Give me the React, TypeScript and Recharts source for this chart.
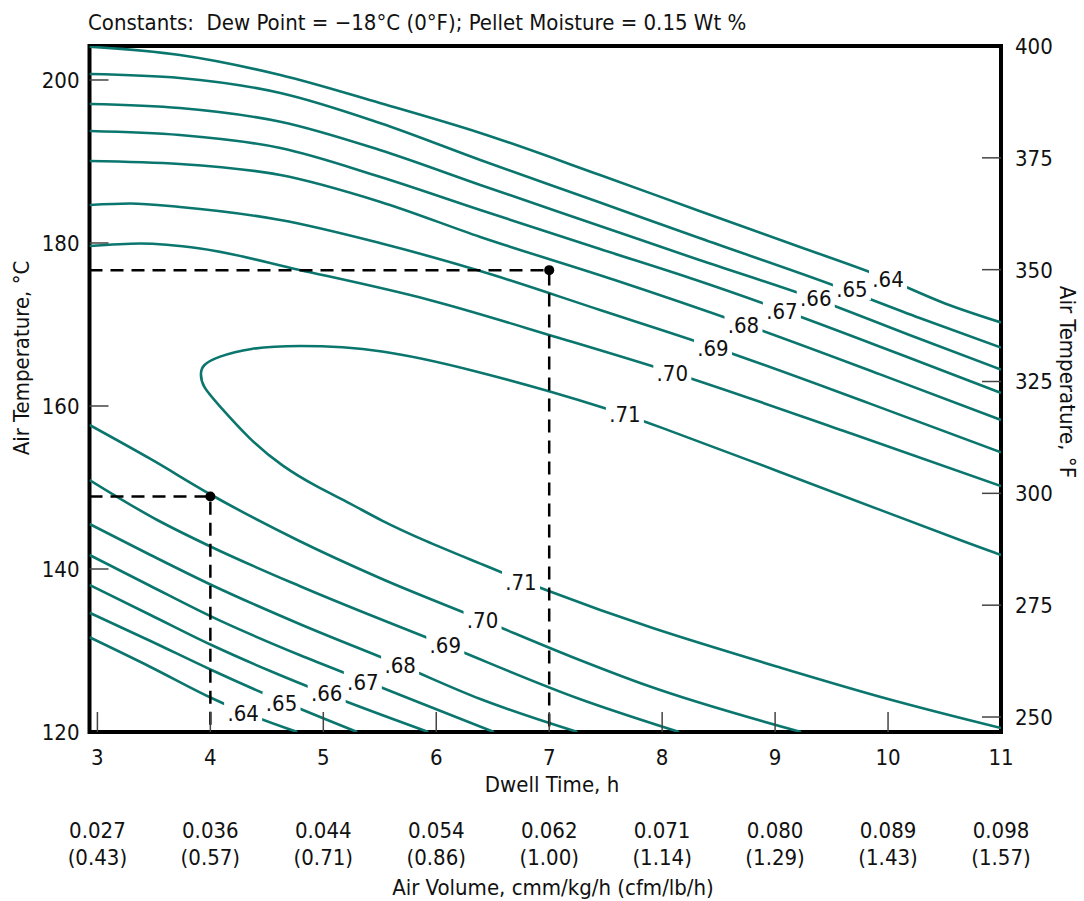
import React from 'react';
import { ComposedChart, Line, Scatter, XAxis, YAxis, ReferenceArea } from 'recharts';

// dwell time (h) vs air temperature (°C), contour values
const dwellTicks = [3, 4, 5, 6, 7, 8, 9, 10, 11];
const airVolumeSI = ['0.027', '0.036', '0.044', '0.054', '0.062', '0.071', '0.080', '0.089', '0.098'];
const airVolumeUS = ['(0.43)', '(0.57)', '(0.71)', '(0.86)', '(1.00)', '(1.14)', '(1.29)', '(1.43)', '(1.57)'];
const tempCTicks = [120, 140, 160, 180, 200];
const tempFTicks = [250, 275, 300, 325, 350, 375, 400];

const upper64 = [[2.93, 204.09], [3.73, 203.07], [4.62, 200.61], [5.5, 197.18], [6.39, 193.5], [7.45, 188.34], [8.33, 183.93], [9.22, 179.51], [9.93, 175.95], [10.51, 172.55], [11, 170.25]];
const upper65 = [[2.93, 200.74], [3.73, 200.25], [4.62, 198.4], [5.5, 194.72], [6.39, 190.18], [7.45, 184.97], [8.33, 180.61], [9.51, 174.85], [10.28, 170.8], [11, 167.17]];
const upper66 = [[2.93, 197.06], [3.73, 196.56], [4.62, 194.88], [5.5, 191.41], [6.39, 187.12], [7.45, 182.09], [8.33, 177.91], [9.36, 173.13], [10.19, 168.71], [11, 164.47]];
const upper67 = [[2.93, 193.74], [3.73, 193.25], [4.62, 191.66], [5.5, 188.13], [6.39, 184.05], [7.45, 179.26], [8.3, 175.46], [9.06, 171.78], [10.1, 166.38], [11, 161.6]];
const upper68 = [[2.93, 190.06], [3.73, 189.69], [4.62, 188.34], [5.5, 185.07], [6.39, 180.74], [7.58, 175.46], [8.72, 170.06], [9.93, 163.88], [11, 158.28]];
const upper69 = [[2.93, 184.66], [3.29, 184.85], [3.73, 184.42], [4.62, 182.82], [5.5, 180.0], [6.39, 176.56], [7.45, 171.78], [8.45, 167.24], [9.84, 160.29], [11, 154.31]];
const upper70 = [[2.93, 179.63], [3.38, 179.94], [3.91, 179.33], [4.79, 176.69], [5.94, 173.01], [7.09, 168.34], [8.09, 164.11], [9.68, 156.59], [11, 150.18]];
// .71 opens to the right: upper branch, nose, lower branch
const loop71 = [[11, 141.72], [10.72, 143.1], [9.98, 146.99], [9.08, 151.72], [7.85, 158.12], [7.55, 159.51], [7.0, 161.84], [6.39, 164.17], [5.5, 167.12], [4.73, 167.48], [4.35, 167.12], [4.06, 166.05], [3.93, 165.03], [3.91, 164.01], [3.93, 162.37], [4.06, 160.33], [4.35, 155.83], [4.64, 152.55], [4.94, 150.1], [5.24, 148.06], [5.5, 146.01], [5.88, 143.56], [6.39, 140.67], [6.9, 137.72], [7.88, 132.76], [9.08, 127.77], [9.98, 124.02], [11, 120.49]];
const lower70 = [[2.93, 157.67], [3.47, 153.5], [4.01, 149.08], [4.77, 143.56], [5.5, 138.9], [6.41, 133.74], [7.18, 129.33], [7.88, 125.64], [9.23, 120]];
const lower69 = [[2.93, 150.92], [3.53, 146.01], [4.01, 142.7], [4.79, 137.91], [6.08, 130.67], [7.27, 124.05], [8.15, 120]];
const lower68 = [[2.93, 145.52], [3.47, 141.72], [4.01, 138.04], [4.79, 133.25], [5.68, 128.22], [6.39, 124.05], [7.25, 120]];
const lower67 = [[2.93, 141.72], [3.47, 137.91], [4.01, 134.15], [4.79, 129.45], [5.35, 126.38], [5.86, 123.56], [6.51, 120]];
const lower66 = [[2.93, 138.04], [3.47, 134.36], [4.01, 130.67], [4.53, 127.48], [5.03, 124.66], [5.93, 120]];
const lower65 = [[2.93, 134.64], [3.47, 131.17], [4.01, 127.61], [4.63, 123.8], [5.3, 120]];
const lower64 = [[2.93, 131.62], [3.47, 127.98], [4.01, 124.17], [4.29, 122.45], [4.77, 120]];

const contourLabels = [
  { t: 10.0, c: 175.58, text: '.64' },
  { t: 9.68, c: 174.36, text: '.65' },
  { t: 9.36, c: 173.18, text: '.66' },
  { t: 9.06, c: 171.6, text: '.67' },
  { t: 8.72, c: 169.94, text: '.68' },
  { t: 8.45, c: 167.12, text: '.69' },
  { t: 8.09, c: 164.05, text: '.70' },
  { t: 7.67, c: 159.02, text: '.71' },
  { t: 6.75, c: 138.4, text: '.71' },
  { t: 6.41, c: 133.74, text: '.70' },
  { t: 6.08, c: 130.67, text: '.69' },
  { t: 5.68, c: 128.22, text: '.68' },
  { t: 5.35, c: 126.13, text: '.67' },
  { t: 5.03, c: 124.79, text: '.66' },
  { t: 4.63, c: 123.56, text: '.65' },
  { t: 4.29, c: 122.33, text: '.64' },
];

// worked examples: 7 h at 177 °C (350 °F), 4 h at 149 °C (300 °F)
const guideHigh = [[2.93, 176.67], [7, 176.67], [7, 120]];
const guideLow = [[2.93, 148.89], [4, 148.89], [4, 120]];
const guideDots = [{ t: 7, c: 176.67 }, { t: 4, c: 148.89 }];

const contours = [upper64, upper65, upper66, upper67, upper68, upper69, upper70, loop71, lower70, lower69, lower68, lower67, lower66, lower65, lower64];

const toPts = (arr: number[][]) => arr.map(([t, c]) => ({ t, c }));

const FONT = "'Liberation Sans Narrow', 'Arial Narrow', 'DejaVu Sans Condensed', sans-serif";
const TEAL = '#0a766d';
const X_MIN = 2.93;
const X_MAX = 11;
const C_MIN = 120;
const C_MAX = 204.17;

const LeftTick = (props: any) => {
  const { x, y, payload } = props;
  return (
    <g>
      {payload.value !== 120 && <line x1={x} x2={x + 19} y1={y} y2={y} stroke="#444" strokeWidth={1.5} />}
      <text x={x - 10} y={y} dy="0.36em" textAnchor="end" fontSize={22} fontFamily={FONT} fill="#111">{payload.value}</text>
    </g>
  );
};

const RightTick = (props: any) => {
  const { x, y, payload } = props;
  return (
    <g>
      {payload.value !== 400 && <line x1={x - 19} x2={x} y1={y} y2={y} stroke="#444" strokeWidth={1.5} />}
      <text x={x + 14} y={y} dy="0.36em" textAnchor="start" fontSize={22} fontFamily={FONT} fill="#111">{payload.value}</text>
    </g>
  );
};

const BottomTick = (props: any) => {
  const { x, y, payload } = props;
  const i = dwellTicks.indexOf(payload.value);
  return (
    <g fontSize={22} fontFamily={FONT} fill="#111" textAnchor="middle">
      {payload.value !== 11 && <line x1={x} x2={x} y1={y - 20} y2={y} stroke="#444" strokeWidth={1.5} />}
      <text x={x} y={y + 25} dy="0.36em">{payload.value}</text>
      <text x={x} y={y + 98} dy="0.36em">{airVolumeSI[i]}</text>
      <text x={x} y={y + 125} dy="0.36em">{airVolumeUS[i]}</text>
    </g>
  );
};

const LabelMark = (props: any) => {
  const { cx, cy, payload } = props;
  return (
    <g>
      <rect x={cx - 19} y={cy - 11} width={38} height={22} fill="#fff" />
      <text x={cx} y={cy} dy="0.36em" textAnchor="middle" fontSize={22} fontFamily={FONT} fill="#111">{payload.text}</text>
    </g>
  );
};

const DotMark = (props: any) => <circle cx={props.cx} cy={props.cy} r={5} fill="#000" />;

export default function App() {
  return (
    <div style={{ position: 'absolute', left: 0, top: 0, width: 1084, height: 901, background: '#fff' }}>
      <ComposedChart width={1084} height={901} margin={{ top: 46, right: 0, bottom: 0, left: 0 }}>
        <XAxis
          type="number"
          dataKey="t"
          domain={[X_MIN, X_MAX]}
          ticks={dwellTicks}
          interval={0}
          allowDataOverflow
          height={169}
          axisLine={false}
          tickLine={false}
          tickSize={0}
          tickMargin={0}
          tick={<BottomTick />}
        />
        <YAxis
          yAxisId="c"
          type="number"
          dataKey="c"
          domain={[C_MIN, C_MAX]}
          ticks={tempCTicks}
          interval={0}
          allowDataOverflow
          width={89.5}
          axisLine={false}
          tickLine={false}
          tickSize={0}
          tickMargin={0}
          tick={<LeftTick />}
        />
        <YAxis
          yAxisId="f"
          orientation="right"
          type="number"
          domain={[246.65, 400]}
          ticks={tempFTicks}
          interval={0}
          allowDataOverflow
          width={83}
          axisLine={false}
          tickLine={false}
          tickSize={0}
          tickMargin={0}
          tick={<RightTick />}
        />
        {contours.map((curve, k) => (
          <Line
            key={k}
            yAxisId="c"
            data={toPts(curve)}
            dataKey="c"
            type={curve === loop71 ? 'basis' : 'monotone'}
            stroke={TEAL}
            strokeWidth={2.6}
            dot={false}
            activeDot={false}
            isAnimationActive={false}
          />
        ))}
        {[guideHigh, guideLow].map((g, k) => (
          <Line
            key={'g' + k}
            yAxisId="c"
            data={toPts(g)}
            dataKey="c"
            type="linear"
            stroke="#000"
            strokeWidth={2.5}
            strokeDasharray="13 8"
            dot={false}
            activeDot={false}
            isAnimationActive={false}
          />
        ))}
        <Scatter yAxisId="c" data={guideDots} dataKey="c" shape={<DotMark />} isAnimationActive={false} />
        <Scatter yAxisId="c" data={contourLabels} dataKey="c" shape={<LabelMark />} isAnimationActive={false} />
        <ReferenceArea yAxisId="c" x1={X_MIN} x2={X_MAX} y1={C_MIN} y2={C_MAX} fill="none" stroke="#000" strokeWidth={4} ifOverflow="visible" />
      </ComposedChart>
      <svg width={1084} height={901} style={{ position: 'absolute', left: 0, top: 0, pointerEvents: 'none' }} fontFamily={FONT} fontSize={22} fill="#111">
        <text x={88} y={22} dy="0.36em" style={{ whiteSpace: 'pre' }}>Constants:  Dew Point = −18°C (0°F); Pellet Moisture = 0.15 Wt %</text>
        <text x={552} y={784} dy="0.36em" textAnchor="middle">Dwell Time, h</text>
        <text x={553} y={887} dy="0.36em" textAnchor="middle">Air Volume, cmm/kg/h (cfm/lb/h)</text>
        <text x={21} y={358} dy="0.36em" textAnchor="middle" transform="rotate(-90 21 358)">Air Temperature, °C</text>
        <text x={1068} y={382} dy="0.36em" textAnchor="middle" transform="rotate(90 1068 382)">Air Temperature, °F</text>
      </svg>
    </div>
  );
}
